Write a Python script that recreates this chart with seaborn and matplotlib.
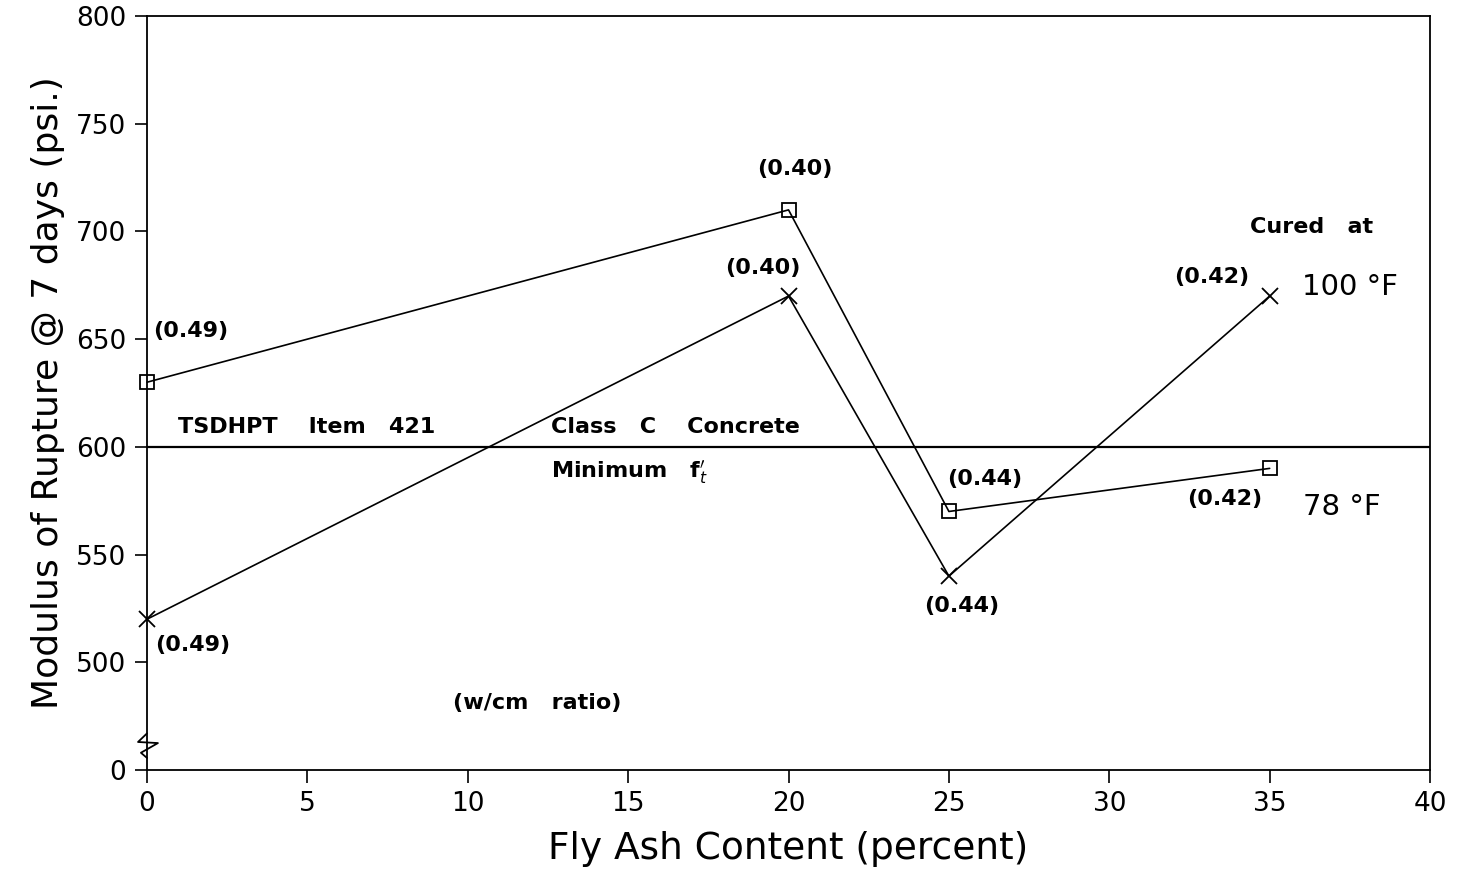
import matplotlib
matplotlib.use("Agg")
import matplotlib.pyplot as plt
import seaborn as sns
import pandas as pd

# Fly ash content (percent)
fly_ash = [0, 20, 25, 35]
# modulus of rupture @ 7 days, psi
mor_78f = [630, 710, 570, 590]
mor_100f = [520, 670, 540, 670]
# w/cm ratios for each point
wcm_78f = ["(0.49)", "(0.40)", "(0.44)", "(0.42)"]
wcm_100f = ["(0.49)", "(0.40)", "(0.44)", "(0.42)"]

spec_min = 600
y_ticks = [450, 500, 550, 600, 650, 700, 750, 800]
y_tick_labels = ["0", "500", "550", "600", "650", "700", "750", "800"]
x_ticks = [0, 5, 10, 15, 20, 25, 30, 35, 40]

df = pd.DataFrame({"fly_ash": fly_ash, "mor_78f": mor_78f, "mor_100f": mor_100f})

sns.set_theme(style="white")
plt.rcParams["font.family"] = ["DejaVu Sans"]

fig = plt.figure(figsize=(14.57, 8.74), dpi=100)
ax = fig.add_axes([0.1009, 0.119, 0.8806, 0.8627])

sns.lineplot(data=df, x="fly_ash", y="mor_78f", ax=ax, color="black", lw=1.2,
             marker="s", markersize=10, markerfacecolor="none",
             markeredgecolor="black", markeredgewidth=1.3, clip_on=False)
sns.lineplot(data=df, x="fly_ash", y="mor_100f", ax=ax, color="black", lw=1.2,
             marker="x", markersize=11, markeredgecolor="black",
             markeredgewidth=1.3, clip_on=False)

ax.axhline(spec_min, color="black", lw=1.6)

ax.set_xlim(0, 40)
ax.set_ylim(450, 800)
ax.set_xticks(x_ticks)
ax.set_yticks(y_ticks)
ax.set_yticklabels(y_tick_labels)
ax.tick_params(axis="both", direction="out", length=9, width=1.2,
               labelsize=19, colors="black", left=True, bottom=True,
               top=False, right=False, pad=6)
for s in ax.spines.values():
    s.set_color("black")
    s.set_linewidth(1.3)

ax.set_xlabel("Fly Ash Content (percent)", fontsize=27, labelpad=10, color="black")
ax.set_ylabel("Modulus of Rupture @ 7 days (psi.)", fontsize=26, labelpad=8,
              color="black")

# axis break on the y axis
ax.plot([0, -0.28, 0.34, -0.19, 0], [467, 463, 462.5, 458, 455.6],
        color="black", lw=1.3, clip_on=False)

bold = dict(fontsize=16, fontweight="bold", color="black")
# w/cm labels, 78 F series
ax.text(0.2, 654, wcm_78f[0], ha="left", va="center", **bold)
ax.text(20.2, 729, wcm_78f[1], ha="center", va="center", **bold)
ax.text(26.1, 585, wcm_78f[2], ha="center", va="center", **bold)
ax.text(33.6, 576, wcm_78f[3], ha="center", va="center", **bold)
# w/cm labels, 100 F series
ax.text(0.25, 508, wcm_100f[0], ha="left", va="center", **bold)
ax.text(19.2, 683, wcm_100f[1], ha="center", va="center", **bold)
ax.text(25.4, 526, wcm_100f[2], ha="center", va="center", **bold)
ax.text(33.2, 679, wcm_100f[3], ha="center", va="center", **bold)

ax.text(36.3, 702, "Cured   at", ha="center", va="center", **bold)
ax.text(36.0, 674, "100 °F", ha="left", va="center", fontsize=21, color="black")
ax.text(36.05, 572, "78 °F", ha="left", va="center", fontsize=21, color="black")

ax.text(0.97, 609, "TSDHPT    Item   421", ha="left", va="center", **bold)
ax.text(12.58, 609, "Class   C    Concrete", ha="left", va="center", **bold)
ax.text(12.6, 588, r"Minimum   f$_{t}^{\prime}$", ha="left", va="center", **bold)
ax.text(12.17, 481, "(w/cm   ratio)", ha="center", va="center", **bold)

fig.savefig("out.png", dpi=100)
